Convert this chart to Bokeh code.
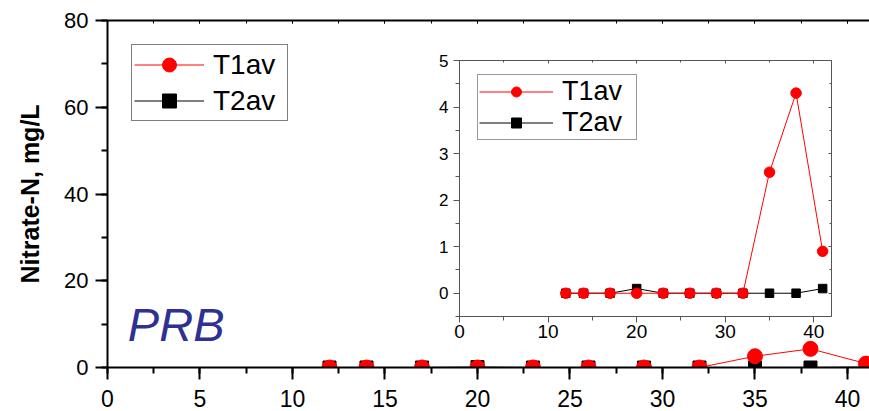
from bokeh.plotting import figure
from bokeh.models import (Range1d, LinearAxis, SingleIntervalTicker, Legend, LegendItem,
                          Label, CustomJSTickFormatter)
from bokeh.embed import file_html
from bokeh.resources import INLINE

# ---- data ----
days = [12, 14, 17, 20, 23, 26, 29, 32, 35, 38, 41]
t1av = [0, 0, 0, 0, 0, 0, 0, 0, 2.6, 4.3, 0.9]
t2av = [0, 0, 0, 0.1, 0, 0, 0, 0, 0, 0, 0.1]
series_names = ["T1av", "T2av"]
y_label = "Nitrate-N, mg/L"
site_label = "PRB"

FONT = "Liberation Sans"
RED = "#FF0000"
BLACK = "#000000"
GRAY = "#555555"

# ---- layout constants (pixels) ----
FIG_W, FIG_H = 869, 411
B_LEFT, B_RIGHT, B_TOP, B_BOTTOM = 107, 0, 20, 44
FRAME_W = FIG_W - B_LEFT - B_RIGHT
FRAME_H = FIG_H - B_TOP - B_BOTTOM
MAIN_X = (0, 41.19)
MAIN_Y = (0, 80)
# inset frame inside the main frame (px from frame left / frame top)
IN_L, IN_R, IN_T, IN_B = 352, 724, 40, 296
IN_X = (0, 42)
IN_Y = (-0.5, 5)

kx = (IN_R - IN_L) / (IN_X[1] - IN_X[0])
ky = (IN_B - IN_T) / (IN_Y[1] - IN_Y[0])
ix_range = Range1d(IN_X[0] - IN_L / kx, IN_X[1] + (FRAME_W - IN_R) / kx)
iy_range = Range1d(IN_Y[0] - (FRAME_H - IN_B) / ky, IN_Y[1] + IN_T / ky)

p = figure(width=FIG_W, height=FIG_H, x_range=Range1d(*MAIN_X), y_range=Range1d(*MAIN_Y),
           output_backend="svg", toolbar_location=None,
           min_border_left=B_LEFT, min_border_right=B_RIGHT,
           min_border_top=B_TOP, min_border_bottom=B_BOTTOM)
p.extra_x_ranges = {"ix": ix_range}
p.extra_y_ranges = {"iy": iy_range}
p.outline_line_color = None
p.grid.visible = False
p.background_fill_color = "white"
p.border_fill_color = "white"

# ---- main series ----
r2l = p.line(days, t2av, line_color=BLACK, line_width=1)
r2s = p.scatter(days, t2av, marker="square", size=13, fill_color=BLACK, line_color=BLACK)
r1l = p.line(days, t1av, line_color=RED, line_width=1)
r1s = p.scatter(days, t1av, marker="circle", size=15, fill_color=RED, line_color=RED)

xa = p.xaxis[0]
xa.ticker = SingleIntervalTicker(interval=5, num_minor_ticks=2)
ya = p.yaxis[0]
ya.ticker = SingleIntervalTicker(interval=20, num_minor_ticks=2)
for ax in (xa, ya):
    ax.axis_line_width = 2
    ax.axis_line_color = BLACK
    ax.major_tick_line_width = 2
    ax.minor_tick_line_width = 2
    ax.major_tick_out = 12
    ax.major_tick_in = 0
    ax.minor_tick_out = 6
    ax.minor_tick_in = 0
    ax.major_label_text_font = FONT
    ax.major_label_text_color = BLACK
xa.major_label_text_font_size = "23px"
xa.major_label_standoff = 10
ya.major_label_text_font_size = "22px"
ya.major_label_standoff = 7
ya.axis_label = y_label
ya.axis_label_text_font = FONT
ya.axis_label_text_font_style = "bold"
ya.axis_label_text_font_size = "25px"
ya.axis_label_text_color = BLACK
ya.axis_label_standoff = 17

EMPTY = CustomJSTickFormatter(code="return ''")
top = LinearAxis(ticker=SingleIntervalTicker(interval=5, num_minor_ticks=2), formatter=EMPTY,
                 major_tick_in=3, major_tick_out=0, minor_tick_in=3, minor_tick_out=0,
                 axis_line_width=2, major_label_standoff=0, major_label_text_font_size="1px")
p.add_layout(top, "above")

legend = Legend(items=[LegendItem(label=series_names[0], renderers=[r1l, r1s]),
                       LegendItem(label=series_names[1], renderers=[r2l, r2s])],
                location=(24, 246), border_line_color=BLACK, border_line_width=1,
                label_text_font=FONT, label_text_font_size="28px", label_text_color=BLACK,
                glyph_width=70, glyph_height=35, label_standoff=9, label_width=72,
                padding=2, spacing=1, margin=0)
p.add_layout(legend)

p.add_layout(Label(x=1.1, y=9.9, text=site_label, text_font=FONT, text_font_style="italic",
                   text_font_size="47px", text_color="#2E3192", text_baseline="alphabetic"))

# ---- inset (drawn on extra ranges inside the main frame) ----
kw = dict(x_range_name="ix", y_range_name="iy")
s2l = p.line(days, t2av, line_color=BLACK, line_width=1, **kw)
s2s = p.scatter(days, t2av, marker="square", size=8.5, fill_color=BLACK, line_color=BLACK, **kw)
s1l = p.line(days, t1av, line_color=RED, line_width=1, **kw)
s1s = p.scatter(days, t1av, marker="circle", size=10.5, fill_color=RED, line_color=RED, **kw)

def inset_axis(ticker, loc, bounds, labels=True, inward=False, font="18px", standoff=4):
    ax = LinearAxis(ticker=ticker, fixed_location=loc, bounds=bounds,
                    axis_line_color=GRAY, axis_line_width=1,
                    major_tick_line_color=GRAY, minor_tick_line_color=GRAY,
                    major_label_text_font=FONT, major_label_text_color=BLACK,
                    major_label_text_font_size=font, major_label_standoff=standoff, **kw)
    if inward:
        ax.major_tick_in, ax.major_tick_out = 3, 0
        ax.minor_tick_in, ax.minor_tick_out = 2, 0
    else:
        ax.major_tick_in, ax.major_tick_out = 0, 6
        ax.minor_tick_in, ax.minor_tick_out = 0, 4
    if not labels:
        ax.formatter = CustomJSTickFormatter(code="return ''")
        ax.major_label_text_font_size = "1px"
        ax.major_label_standoff = 0
    return ax

p.add_layout(inset_axis(SingleIntervalTicker(interval=10, num_minor_ticks=2), IN_Y[0], IN_X,
                        font="19px", standoff=2), "below")
p.add_layout(inset_axis(SingleIntervalTicker(interval=1, num_minor_ticks=2), IN_X[0], IN_Y,
                        font="17px", standoff=5), "left")
p.add_layout(inset_axis(SingleIntervalTicker(interval=10, num_minor_ticks=2), IN_Y[1], IN_X,
                        labels=False, inward=True), "above")
p.add_layout(inset_axis(SingleIntervalTicker(interval=1, num_minor_ticks=2), IN_X[1], IN_Y,
                        labels=False, inward=True), "right")

q_legend = Legend(items=[LegendItem(label=series_names[0], renderers=[s1l, s1s]),
                         LegendItem(label=series_names[1], renderers=[s2l, s2s])],
                  location=(370, 227), border_line_color="#333333", border_line_width=1,
                  label_text_font=FONT, label_text_font_size="27px", label_text_color=BLACK,
                  glyph_width=74, glyph_height=25, label_standoff=9, label_width=73,
                  padding=1, spacing=0, margin=0)
p.add_layout(q_legend)

open("out.html", "w").write(file_html(p, INLINE))
